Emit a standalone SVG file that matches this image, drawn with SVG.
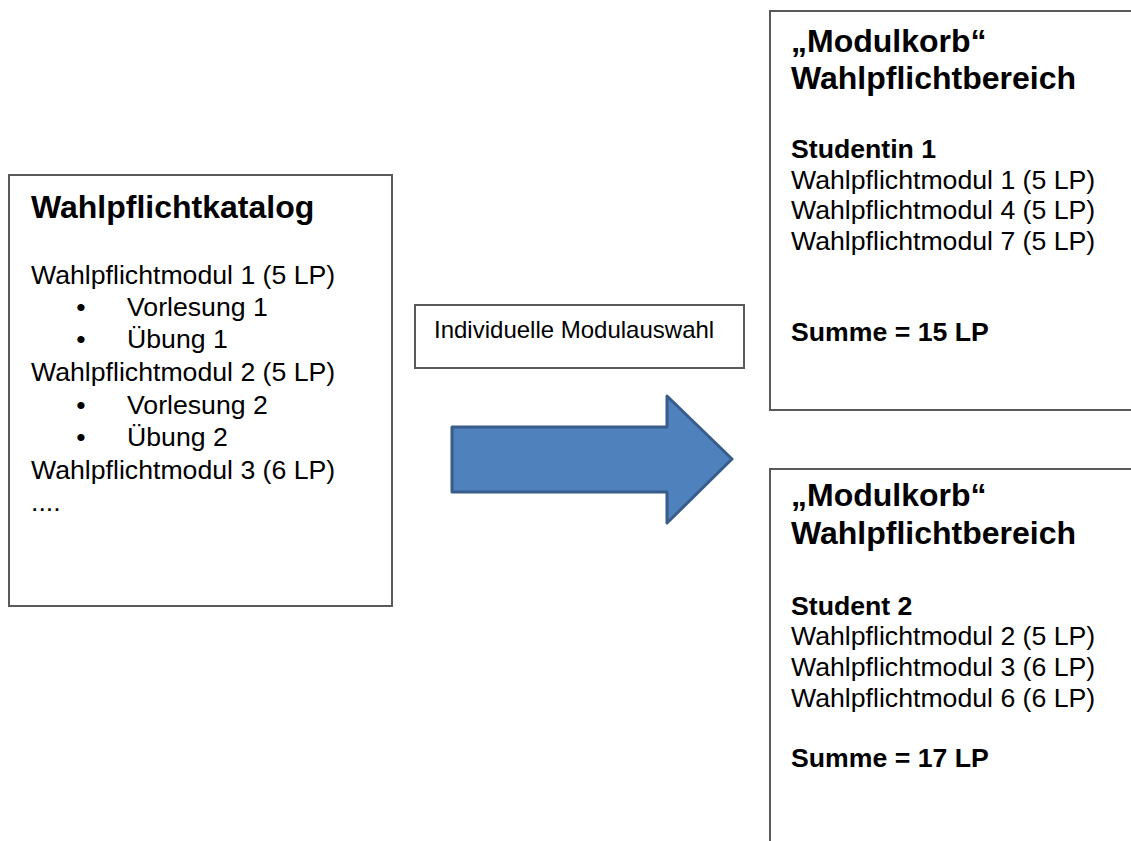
<svg xmlns="http://www.w3.org/2000/svg" width="1131" height="841" viewBox="0 0 1131 841">
<style>
.box{fill:#fff;stroke:#5a5a5a;stroke-width:2}
text{font-family:"Liberation Sans",Arial,sans-serif;fill:#000}
.h{font-size:32px;font-weight:bold}
.b{font-size:26.67px}
.bb{font-size:26.67px;font-weight:bold}
.s{font-size:24px}
</style>
<rect width="1131" height="841" fill="#fff"/>
<g id="katalog">
<rect class="box" x="9" y="175" width="383" height="431"/>
<text class="h" x="31" y="218">Wahlpflichtkatalog</text>
<text class="b" x="31" y="284">Wahlpflichtmodul 1 (5 LP)</text>
<text class="b" x="81" y="316" text-anchor="middle">•</text>
<text class="b" x="127" y="316">Vorlesung 1</text>
<text class="b" x="81" y="348" text-anchor="middle">•</text>
<text class="b" x="127" y="348">Übung 1</text>
<text class="b" x="31" y="381">Wahlpflichtmodul 2 (5 LP)</text>
<text class="b" x="81" y="414" text-anchor="middle">•</text>
<text class="b" x="127" y="414">Vorlesung 2</text>
<text class="b" x="81" y="446" text-anchor="middle">•</text>
<text class="b" x="127" y="446">Übung 2</text>
<text class="b" x="31" y="479">Wahlpflichtmodul 3 (6 LP)</text>
<text class="b" x="31" y="511">....</text>
</g>
<g id="label">
<rect class="box" x="415" y="305" width="329" height="63"/>
<text class="s" x="434" y="338">Individuelle Modulauswahl</text>
</g>
<g id="connectors">
<path d="M452,427 H667 V396 L732,459 L667,523 V492 H452 Z" fill="#4f81bd" stroke="#385d8a" stroke-width="3" stroke-linejoin="round"/>
</g>
<g id="korb1">
<rect class="box" x="770" y="11" width="380" height="399"/>
<text class="h" x="791" y="52">„Modulkorb“</text>
<text class="h" x="791" y="89">Wahlpflichtbereich</text>
<text class="bb" x="791" y="158">Studentin 1</text>
<text class="b" x="791" y="189">Wahlpflichtmodul 1 (5 LP)</text>
<text class="b" x="791" y="219">Wahlpflichtmodul 4 (5 LP)</text>
<text class="b" x="791" y="250">Wahlpflichtmodul 7 (5 LP)</text>
<text class="bb" x="791" y="341">Summe = 15 LP</text>
</g>
<g id="korb2">
<rect class="box" x="770" y="469" width="380" height="400"/>
<text class="h" x="791" y="506">„Modulkorb“</text>
<text class="h" x="791" y="544">Wahlpflichtbereich</text>
<text class="bb" x="791" y="615">Student 2</text>
<text class="b" x="791" y="645">Wahlpflichtmodul 2 (5 LP)</text>
<text class="b" x="791" y="676">Wahlpflichtmodul 3 (6 LP)</text>
<text class="b" x="791" y="707">Wahlpflichtmodul 6 (6 LP)</text>
<text class="bb" x="791" y="767">Summe = 17 LP</text>
</g>
</svg>
